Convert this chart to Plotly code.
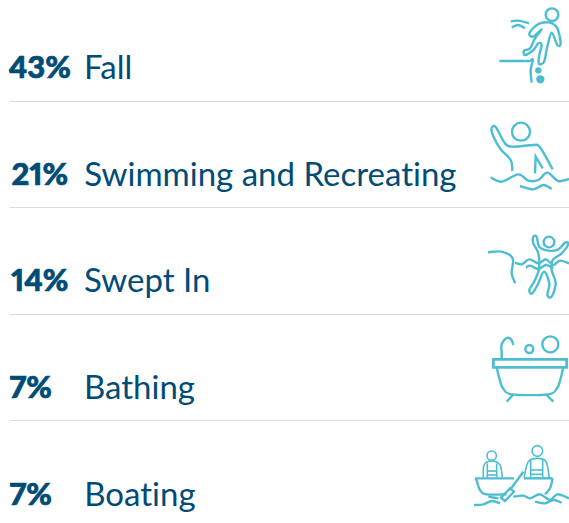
import plotly.graph_objects as go

percents = ["43%", "21%", "14%", "7%", "7%"]
labels = ["Fall", "Swimming and Recreating", "Swept In", "Bathing", "Boating"]
row_y = [66, 173, 279, 386, 493]
rule_y = [101.5, 207.5, 314.5, 420.5]

TEXT = "#004C76"
ICON = "#4DBDD1"
RULE = "#D9D9D9"
FONT = "Lato"


def to_px(p, o):
    return (o[0] + p[0] / 3, o[1] + p[1] / 3)


def smooth(points, o, closed=False):
    pts = [to_px(p, o) for p in points]
    n = len(pts)
    get = (lambda i: pts[i % n]) if closed else (lambda i: pts[max(0, min(n - 1, i))])
    d = f"M{pts[0][0]:.2f},{pts[0][1]:.2f}"
    for i in range(n if closed else n - 1):
        p0, p1, p2, p3 = get(i - 1), get(i), get(i + 1), get(i + 2)
        c1 = (p1[0] + (p2[0] - p0[0]) / 6, p1[1] + (p2[1] - p0[1]) / 6)
        c2 = (p2[0] - (p3[0] - p1[0]) / 6, p2[1] - (p3[1] - p1[1]) / 6)
        d += f" C{c1[0]:.2f},{c1[1]:.2f} {c2[0]:.2f},{c2[1]:.2f} {p2[0]:.2f},{p2[1]:.2f}"
    return d + (" Z" if closed else "")


def straight(points, o, closed=False):
    pts = [to_px(p, o) for p in points]
    return "M" + " L".join(f"{x:.2f},{y:.2f}" for x, y in pts) + (" Z" if closed else "")


shapes = []


def path(d, width=2.4, fill=None):
    shapes.append(dict(type="path", path=d, xref="x", yref="y",
                       line=dict(color=ICON, width=width),
                       fillcolor=fill if fill else "rgba(0,0,0,0)"))


def circle(c, r, o, width=2.4, fill=None):
    x, y = to_px(c, o)
    r = r / 3
    shapes.append(dict(type="circle", xref="x", yref="y", x0=x - r, x1=x + r, y0=y - r, y1=y + r,
                       line=dict(color=ICON, width=width),
                       fillcolor=fill if fill else "rgba(0,0,0,0)"))


# Fall icon
o = (470, 0)
circle((246, 44), 19, o)
path(smooth([(178, 100), (205, 72), (240, 68), (262, 85), (272, 130), (262, 135), (245, 98),
             (232, 140), (222, 185), (207, 192), (207, 170), (215, 135), (205, 130), (190, 150),
             (165, 165), (162, 152), (180, 145), (195, 115), (215, 88), (190, 110)], o, True))
path(smooth([(122, 64), (145, 62), (177, 70)], o))
path(smooth([(125, 82), (145, 75), (165, 85)], o))
path(straight([(88, 183), (180, 183), (190, 175)], o))
path(smooth([(190, 178), (182, 210), (185, 248)], o))
circle((205, 211), 6, o, fill=ICON)
circle((211, 238), 9, o, fill=ICON)

# Swimming icon
o = (470, 110)
circle((153, 65), 27, o)
path(smooth([(127, 183), (122, 150), (90, 115), (65, 65), (70, 48), (80, 55), (105, 100),
             (130, 110), (190, 105), (210, 112), (248, 178)], o))
path(straight([(195, 190), (197, 140), (218, 175)], o))
path(smooth([(62, 202), (95, 215), (145, 193), (175, 212), (205, 210), (232, 188), (265, 213), (297, 207)], o))
path(smooth([(150, 228), (190, 238), (220, 225), (245, 237)], o))

# Swept in icon
o = (470, 220)
circle((237, 66), 16, o)
path(smooth([(54, 97), (95, 95), (128, 115), (125, 160), (136, 190)], o))
path(smooth([(205, 100), (190, 70), (190, 50), (200, 50), (208, 80), (235, 92), (265, 88), (285, 68),
             (295, 72), (275, 100), (248, 120), (245, 150), (257, 190), (245, 230), (232, 225),
             (238, 190), (222, 155), (205, 190), (187, 220), (178, 210), (195, 180), (207, 145)], o, True))
path(smooth([(135, 128), (155, 133), (178, 118), (205, 130), (228, 118), (250, 135), (270, 122), (297, 130)], o))
path(smooth([(168, 143), (180, 137), (205, 147), (228, 135), (250, 145)], o))

# Bathing icon
o = (470, 325)
path(straight([(70, 103), (290, 103), (290, 127), (70, 127)], o, True), width=2.8)
path(smooth([(80, 127), (88, 160), (98, 188), (125, 208), (235, 208), (262, 188), (272, 160), (280, 127)], o))
path(straight([(130, 208), (110, 230)], o))
path(straight([(228, 208), (250, 230)], o))
path(smooth([(95, 103), (95, 82), (95, 58), (110, 39), (124, 44), (130, 60)], o))
circle((178, 72), 12, o)
circle((241, 58), 24, o)

# Boating icon
o = (470, 435)
lw = 1.6
circle((65, 62), 14, o, lw)
path(smooth([(40, 128), (42, 90), (65, 78), (90, 90), (97, 128)], o), lw)
path(straight([(52, 85), (52, 128)], o), lw)
path(straight([(80, 85), (80, 128)], o), lw)
path(straight([(52, 108), (80, 108)], o), lw)
path(straight([(52, 120), (80, 120)], o), lw)
circle((202, 48), 16, o, lw)
path(smooth([(162, 128), (175, 80), (202, 70), (228, 80), (238, 128)], o), lw)
path(straight([(182, 72), (182, 128)], o), lw)
path(straight([(218, 72), (218, 128)], o), lw)
path(straight([(182, 105), (218, 105)], o), lw)
path(straight([(182, 118), (218, 118)], o), lw)
path(straight([(15, 130), (132, 130)], o))
path(straight([(162, 130), (248, 130)], o))
path(smooth([(18, 130), (30, 165), (50, 178), (110, 178)], o))
path(smooth([(225, 178), (240, 160), (248, 130)], o))
path(straight([(160, 110), (120, 165)], o))
path(straight([(120, 160), (132, 170), (105, 198), (93, 188)], o, True))
path(smooth([(130, 185), (160, 182), (180, 190), (210, 178), (240, 195), (262, 178), (297, 190)], o))
path(smooth([(195, 200), (225, 205), (250, 195), (275, 203)], o))
path(smooth([(12, 210), (40, 208), (65, 198), (90, 205)], o))
path(smooth([(55, 185), (85, 190)], o))

for y in rule_y:
    shapes.append(dict(type="line", xref="x", yref="y", x0=10, x1=569, y0=y, y1=y,
                       line=dict(color=RULE, width=1.2)))

annotations = []
for pct, lab, y in zip(percents, labels, row_y):
    annotations.append(dict(x=7, y=y, xref="x", yref="y", text=pct, showarrow=False,
                            xanchor="left", yanchor="middle",
                            font=dict(family=FONT, size=31, color=TEXT, weight=900)))
    annotations.append(dict(x=82, y=y, xref="x", yref="y", text=lab, showarrow=False,
                            xanchor="left", yanchor="middle",
                            font=dict(family=FONT, size=33, color=TEXT)))

fig = go.Figure()
fig.update_layout(
    width=569, height=523, margin=dict(l=0, r=0, t=0, b=0),
    paper_bgcolor="white", plot_bgcolor="white", showlegend=False,
    xaxis=dict(range=[0, 569], visible=False, fixedrange=True),
    yaxis=dict(range=[523, 0], visible=False, fixedrange=True),
    shapes=shapes, annotations=annotations,
)
post = ("document.body.style.margin='0';document.documentElement.style.overflow='hidden';"
        "var s=document.createElement('style');"
        "s.textContent='text{font-variant-ligatures:none!important;font-feature-settings:\"liga\" 0,\"clig\" 0,\"pnum\" 1!important}';"
        "document.head.appendChild(s);"
        "document.querySelectorAll('.annotation text').forEach(function(t){"
        "if(t.textContent.slice(-1)==='%'){t.style.stroke='#004C76';t.style.strokeWidth='0.7px';}});")
fig.write_html("out.html", config=dict(displayModeBar=False), post_script=post)
